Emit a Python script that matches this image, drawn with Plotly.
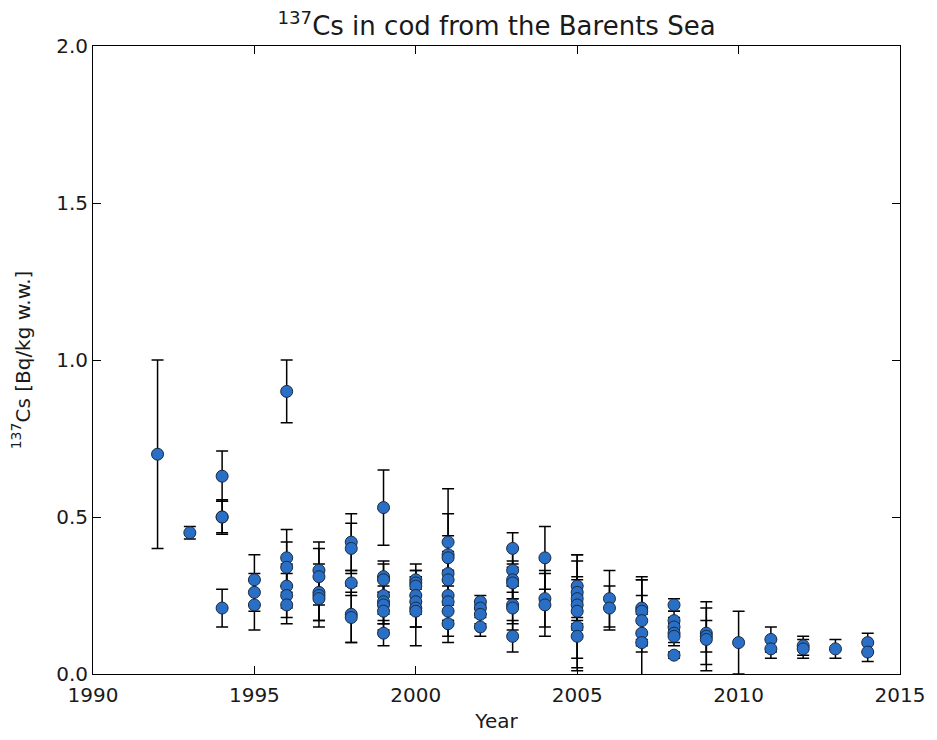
import plotly.graph_objects as go

vals_1992 = [0.70]; errs_1992 = [0.30]
vals_1993 = [0.45]; errs_1993 = [0.02]
vals_1994 = [0.63, 0.50, 0.50, 0.21]; errs_1994 = [0.08, 0.05, 0.055, 0.06]
vals_1995 = [0.30, 0.26, 0.22]; errs_1995 = [0.08, 0.06, 0.08]
vals_1996 = [0.90, 0.37, 0.34, 0.28, 0.25, 0.22]; errs_1996 = [0.10, 0.09, 0.08, 0.07, 0.07, 0.06]
vals_1997 = [0.33, 0.31, 0.26, 0.25, 0.24]; errs_1997 = [0.09, 0.09, 0.09, 0.08, 0.09]
vals_1998 = [0.42, 0.40, 0.29, 0.19, 0.18]; errs_1998 = [0.09, 0.08, 0.04, 0.09, 0.08]
vals_1999 = [0.53, 0.31, 0.30, 0.25, 0.23, 0.22, 0.20, 0.13]; errs_1999 = [0.12, 0.05, 0.05, 0.06, 0.07, 0.06, 0.06, 0.04]
vals_2000 = [0.30, 0.29, 0.28, 0.25, 0.23, 0.21, 0.20]; errs_2000 = [0.05, 0.04, 0.05, 0.06, 0.08, 0.06, 0.11]
vals_2001 = [0.42, 0.38, 0.37, 0.32, 0.30, 0.25, 0.23, 0.20, 0.16]; errs_2001 = [0.09, 0.21, 0.07, 0.07, 0.07, 0.08, 0.07, 0.08, 0.06]
vals_2002 = [0.23, 0.21, 0.19, 0.15]; errs_2002 = [0.02, 0.02, 0.03, 0.03]
vals_2003 = [0.40, 0.33, 0.30, 0.29, 0.22, 0.21, 0.12]; errs_2003 = [0.05, 0.07, 0.06, 0.05, 0.06, 0.07, 0.05]
vals_2004 = [0.37, 0.24, 0.22]; errs_2004 = [0.10, 0.09, 0.10]
vals_2005 = [0.28, 0.26, 0.24, 0.22, 0.20, 0.15, 0.12]; errs_2005 = [0.10, 0.10, 0.07, 0.08, 0.18, 0.10, 0.11]
vals_2006 = [0.24, 0.21]; errs_2006 = [0.09, 0.07]
vals_2007 = [0.21, 0.20, 0.17, 0.13, 0.10]; errs_2007 = [0.10, 0.10, 0.08, 0.06, 0.20]
vals_2008 = [0.22, 0.17, 0.15, 0.13, 0.12, 0.06]; errs_2008 = [0.02, 0.03, 0.03, 0.03, 0.03, 0.01]
vals_2009 = [0.13, 0.12, 0.11]; errs_2009 = [0.10, 0.05, 0.10]
vals_2010 = [0.10]; errs_2010 = [0.10]
vals_2011 = [0.11, 0.08]; errs_2011 = [0.04, 0.03]
vals_2012 = [0.09, 0.08]; errs_2012 = [0.03, 0.03]
vals_2013 = [0.08]; errs_2013 = [0.03]
vals_2014 = [0.10, 0.07]; errs_2014 = [0.03, 0.03]

groups = {
    1992: (vals_1992, errs_1992),
    1993: (vals_1993, errs_1993),
    1994: (vals_1994, errs_1994),
    1995: (vals_1995, errs_1995),
    1996: (vals_1996, errs_1996),
    1997: (vals_1997, errs_1997),
    1998: (vals_1998, errs_1998),
    1999: (vals_1999, errs_1999),
    2000: (vals_2000, errs_2000),
    2001: (vals_2001, errs_2001),
    2002: (vals_2002, errs_2002),
    2003: (vals_2003, errs_2003),
    2004: (vals_2004, errs_2004),
    2005: (vals_2005, errs_2005),
    2006: (vals_2006, errs_2006),
    2007: (vals_2007, errs_2007),
    2008: (vals_2008, errs_2008),
    2009: (vals_2009, errs_2009),
    2010: (vals_2010, errs_2010),
    2011: (vals_2011, errs_2011),
    2012: (vals_2012, errs_2012),
    2013: (vals_2013, errs_2013),
    2014: (vals_2014, errs_2014),
}

x_ticks = [1990, 1995, 2000, 2005, 2010, 2015]
y_ticks = [0.0, 0.5, 1.0, 1.5, 2.0]

xs, ys, es = [], [], []
for yr, (v, e) in groups.items():
    for vi, ei in zip(v, e):
        xs.append(yr); ys.append(vi); es.append(ei)

FONT = "DejaVu Sans"

fig = go.Figure()
fig.add_trace(go.Scatter(
    x=xs, y=ys, mode="markers",
    error_y=dict(type="data", array=es, visible=True, color="black", thickness=1.5, width=6),
    marker=dict(size=12, color="#2a6fc6", line=dict(color="#1a2a40", width=1)),
    showlegend=False, cliponaxis=True,
))

axis_common = dict(
    showline=True, linecolor="black", linewidth=1, mirror="ticks",
    ticks="inside", ticklen=8, tickcolor="black", tickwidth=1,
    showgrid=False, zeroline=False,
    tickfont=dict(family=FONT, size=20, color="#1a1a1a"),
)

fig.update_layout(
    width=937, height=740,
    margin=dict(l=93, r=30, t=46, b=66),
    plot_bgcolor="white", paper_bgcolor="white",
    title=dict(text="<sup>137</sup>Cs in cod from the Barents Sea",
               font=dict(family=FONT, size=26, color="#1a1a1a"),
               x=0.5, xref="paper", xanchor="center",
               y=1 - 26 / 740, yref="container", yanchor="middle"),
    xaxis=dict(range=[1990, 2015], tickvals=x_ticks, ticktext=[str(t) for t in x_ticks],
               ticklabelstandoff=3,
               title=dict(text="Year", font=dict(family=FONT, size=20, color="#1a1a1a"), standoff=7),
               **axis_common),
    yaxis=dict(range=[0, 2.0], tickvals=y_ticks, ticktext=[f"{t:.1f}" for t in y_ticks],
               title=dict(text="<sup>137</sup>Cs [Bq/kg w.w.]", font=dict(family=FONT, size=20, color="#1a1a1a"), standoff=20),
               **axis_common),
)

fig.write_html("out.html")
